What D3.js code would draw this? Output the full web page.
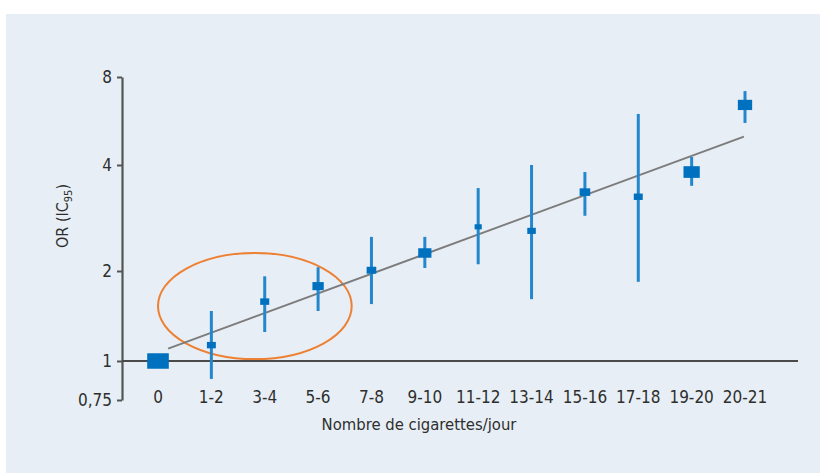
<!DOCTYPE html>
<html>
<head>
<meta charset="utf-8">
<script src="https://cdn.jsdelivr.net/npm/d3@7"></script>
<style>
  body { margin: 0; background: #ffffff; }
  text { font-family: "Liberation Sans Narrow", "DejaVu Sans Condensed", "Roboto", sans-serif; fill: #2e2e2e; }
</style>
</head>
<body>
<svg></svg>
<script>
// DATA
var categories = ['0', '1-2', '3-4', '5-6', '7-8', '9-10', '11-12', '13-14', '15-16', '17-18', '19-20', '20-21'];
var orValues  = [1,    1.13, 1.58, 1.78, 2.01, 2.25, 2.67, 2.60, 3.35, 3.25, 3.82, 6.42];
var ciLow     = [1,    0.876, 1.25, 1.47, 1.55, 2.04, 2.09, 1.61, 2.87, 1.84, 3.49, 5.57];
var ciHigh    = [1,    1.47, 1.92, 2.05, 2.50, 2.50, 3.44, 4.00, 3.82, 5.98, 4.26, 7.16];
var weights   = [320,  55,   56,   88,   64,   120,  35,   50,   77,   55,   182,  140];
var yTicks = [0.75, 1, 2, 4, 8];
var yTickLabels = ['0,75', '1', '2', '4', '8'];
// trend line : [index, OR]
var trendStart = [0.19, 1.10],
    trendEnd = [10.98, 5.0];

//SVG SETUP
var w = 820,
    h = 473;

var svg = d3.select('svg')
    .attr('width', w)
    .attr('height', h);

// panel
svg.append('rect')
    .attr('x', 6)
    .attr('y', 14)
    .attr('width', w - 6)
    .attr('height', h - 14)
    .attr('fill', '#e7eef5');

//SCALES
var xScale = d3.scalePoint()
    .domain(categories)
    .range([158, 745]);

var xIndex = d3.scaleLinear()
    .domain([0, categories.length - 1])
    .range([158, 745]);

// the printed axis is not evenly spaced per octave, so follow its ticks
var yScale = d3.scaleLog()
    .domain([0.75, 1, 2, 4, 8])
    .range([400, 361, 271, 165, 77]);

var sizeScale = d3.scaleSqrt()
    .domain([0, 320])
    .range([0, 18]);

//Y AXIS
var yAxis = d3.axisLeft(yScale)
    .tickValues(yTicks)
    .tickFormat(function(d, i) { return yTickLabels[i]; })
    .tickSize(5)
    .tickSizeOuter(0)
    .tickPadding(5);

var yAxisG = svg.append('g')
    .attr('transform', 'translate(122, 0)')
    .call(yAxis);

yAxisG.select('.domain')
    .attr('stroke', '#555555')
    .attr('stroke-width', 2.2);

yAxisG.selectAll('.tick line')
    .attr('stroke', '#555555')
    .attr('stroke-width', 2);

yAxisG.selectAll('.tick text')
    .attr('font-size', 17)
    .style('font-family', '"Liberation Sans Narrow", "DejaVu Sans Condensed", sans-serif')
    .attr('fill', '#2e2e2e');

// reference line at OR = 1
svg.append('line')
    .attr('x1', 122)
    .attr('x2', 798)
    .attr('y1', yScale(1))
    .attr('y2', yScale(1))
    .attr('stroke', '#4a4a4a')
    .attr('stroke-width', 2);

//X LABELS
svg.append('g')
    .selectAll('text')
    .data(categories)
    .enter()
    .append('text')
    .attr('x', function(d) { return xScale(d); })
    .attr('y', 403)
    .attr('text-anchor', 'middle')
    .attr('font-size', 17)
    .text(function(d) { return d; });

svg.append('text')
    .attr('x', 419)
    .attr('y', 430)
    .attr('text-anchor', 'middle')
    .attr('font-size', 16.5)
    .text('Nombre de cigarettes/jour');

var yLabel = svg.append('text')
    .attr('transform', 'translate(68, 216) rotate(-90)')
    .attr('text-anchor', 'middle')
    .attr('font-size', 16);
yLabel.append('tspan').text('OR (IC');
yLabel.append('tspan').attr('font-size', 11).attr('dy', 4).text('95');
yLabel.append('tspan').attr('dy', -4).text(')');

//ANNOTATION ELLIPSE
var ellLeft = xScale('0'),
    ellRight = xScale('5-6') + xScale.step() * 0.63,
    ellTop = yScale(2.25),
    ellBottom = yScale(1.015);

svg.append('ellipse')
    .attr('cx', (ellLeft + ellRight) / 2)
    .attr('cy', (ellTop + ellBottom) / 2)
    .attr('rx', (ellRight - ellLeft) / 2)
    .attr('ry', (ellBottom - ellTop) / 2)
    .attr('fill', 'none')
    .attr('stroke', '#ee8033')
    .attr('stroke-width', 2);

//TREND LINE
svg.append('line')
    .attr('x1', xIndex(trendStart[0]))
    .attr('y1', yScale(trendStart[1]))
    .attr('x2', xIndex(trendEnd[0]))
    .attr('y2', yScale(trendEnd[1]))
    .attr('stroke', '#7c7c7c')
    .attr('stroke-width', 2);

//POINTS
var points = categories.map(function(c, i) {
    return { cat: c, or: orValues[i], lo: ciLow[i], hi: ciHigh[i], weight: weights[i] };
});

var pointG = svg.append('g')
    .selectAll('g')
    .data(points)
    .enter()
    .append('g');

pointG.filter(function(d) { return d.hi > d.lo; })
    .append('line')
    .attr('x1', function(d) { return xScale(d.cat); })
    .attr('x2', function(d) { return xScale(d.cat); })
    .attr('y1', function(d) { return yScale(d.lo); })
    .attr('y2', function(d) { return yScale(d.hi); })
    .attr('stroke', '#2486cc')
    .attr('stroke-width', 3);

pointG.append('rect')
    .attr('x', function(d) { return xScale(d.cat) - sizeScale(d.weight) * 0.6; })
    .attr('y', function(d) { return yScale(d.or) - sizeScale(d.weight) * 0.43; })
    .attr('width', function(d) { return sizeScale(d.weight) * 1.2; })
    .attr('height', function(d) { return sizeScale(d.weight) * 0.86; })
    .attr('fill', '#0071bf');
</script>
</body>
</html>
